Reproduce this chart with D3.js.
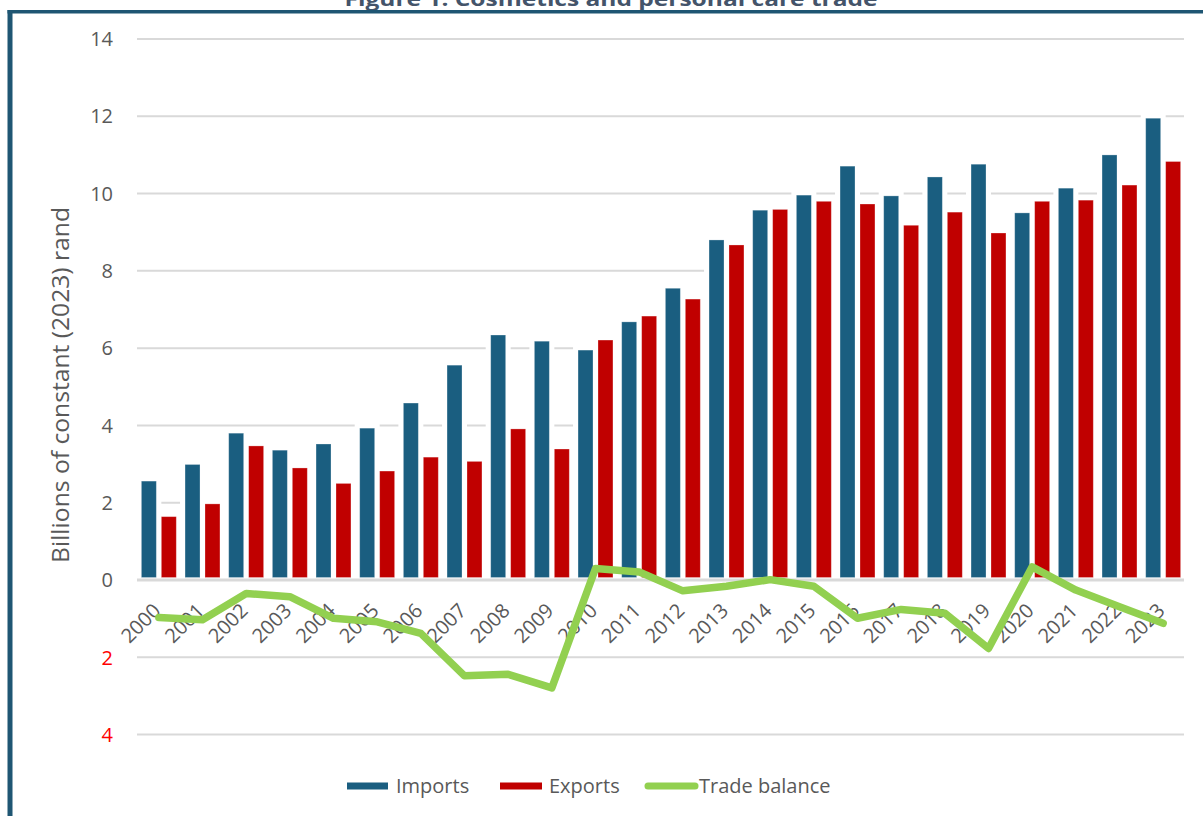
<!DOCTYPE html>
<html>
<head>
<meta charset="utf-8">
<script src="https://cdn.jsdelivr.net/npm/d3@7"></script>
<style>
  html, body { margin: 0; padding: 0; background: #ffffff; }
  svg { display: block; }
  text { font-family: "Open Sans", "Liberation Sans", Arial, sans-serif; }
</style>
</head>
<body>
<div id="chart"></div>
<script>
// Cosmetics and personal care trade, billions of constant (2023) rand
const years = ["2000","2001","2002","2003","2004","2005","2006","2007","2008","2009","2010","2011",
               "2012","2013","2014","2015","2016","2017","2018","2019","2020","2021","2022","2023"];
const imports = [2.56, 2.99, 3.80, 3.36, 3.52, 3.93, 4.58, 5.56, 6.34, 6.18, 5.95, 6.68,
                 7.55, 8.80, 9.57, 9.96, 10.71, 9.94, 10.43, 10.76, 9.50, 10.14, 11.00, 11.95];
const exports = [1.64, 1.97, 3.47, 2.90, 2.50, 2.82, 3.18, 3.07, 3.91, 3.39, 6.21, 6.83,
                 7.27, 8.67, 9.59, 9.80, 9.73, 9.18, 9.52, 8.98, 9.80, 9.83, 10.22, 10.83];
const tradeBalance = [-0.97, -1.03, -0.35, -0.43, -0.99, -1.08, -1.38, -2.48, -2.44, -2.79, 0.30, 0.21,
                      -0.28, -0.16, 0.01, -0.16, -0.99, -0.76, -0.86, -1.77, 0.34, -0.26, -0.69, -1.12];
const yTicks = [-4, -2, 0, 2, 4, 6, 8, 10, 12, 14];
const seriesNames = ["Imports", "Exports", "Trade balance"];

const W = 1203, H = 816;
const colors = { imports: "#1a5e80", exports: "#c00000", balance: "#92d050" };

const svg = d3.select("#chart").append("svg").attr("width", W).attr("height", H);

// Frame and title above it
svg.append("text")
  .attr("x", 611).attr("y", 6)
  .attr("text-anchor", "middle")
  .attr("font-size", 20).attr("font-weight", "bold")
  .attr("fill", "#44546a")
  .attr("textLength", 533).attr("lengthAdjust", "spacingAndGlyphs")
  .text("Figure 1: Cosmetics and personal care trade");
svg.append("rect").attr("x", 7.5).attr("y", 10).attr("width", W).attr("height", 3.5).attr("fill", "#1f5673");
svg.append("rect").attr("x", 7.5).attr("y", 10).attr("width", 5).attr("height", H).attr("fill", "#1f5673");

const left = 137, right = 1185;
const y = d3.scaleLinear().domain([-4, 14]).range([734.6, 39]);
const x0 = d3.scaleBand().domain(years).range([left, right]).paddingInner(0.2).paddingOuter(0.1);
const x1 = d3.scaleBand().domain(["imports", "exports"]).range([0, x0.bandwidth()]).paddingInner(0.25);
const xc = d => x0(d) + x0.bandwidth() / 2;

// Gridlines
svg.append("g").selectAll("line").data(yTicks.filter(t => t !== 0)).join("line")
  .attr("x1", left).attr("x2", 1184)
  .attr("y1", d => y(d)).attr("y2", d => y(d))
  .attr("stroke", "#d9d9d9").attr("stroke-width", 2);

// Y tick labels (values below zero show the deficit size, in red)
svg.append("g").selectAll("text").data(yTicks).join("text")
  .attr("x", 113).attr("y", d => y(d)).attr("dy", "0.36em")
  .attr("text-anchor", "end").attr("font-size", 20)
  .attr("fill", d => d < 0 ? "#ff0000" : "#595959")
  .text(d => Math.abs(d));

// Y axis title
svg.append("text")
  .attr("transform", "translate(69,385) rotate(-90)")
  .attr("text-anchor", "middle").attr("font-size", 23).attr("fill", "#595959")
  .attr("textLength", 356).attr("lengthAdjust", "spacingAndGlyphs")
  .text("Billions of constant (2023) rand");

const barData = years.flatMap((yr, i) => [
  { yr, key: "imports", v: imports[i] },
  { yr, key: "exports", v: exports[i] }
]);

// White halos behind bars
const halo = 5;
svg.append("g").selectAll("rect").data(barData).join("rect")
  .attr("x", d => x0(d.yr) + x1(d.key) - halo)
  .attr("y", d => y(d.v) - halo)
  .attr("width", x1.bandwidth() + 2 * halo)
  .attr("height", d => y(0) - y(d.v) + halo - 2)
  .attr("fill", "#ffffff");

// Bars
svg.append("g").selectAll("rect").data(barData).join("rect")
  .attr("x", d => x0(d.yr) + x1(d.key))
  .attr("y", d => y(d.v))
  .attr("width", x1.bandwidth())
  .attr("height", d => y(0) - y(d.v) - 2.5)
  .attr("fill", d => colors[d.key])
  .attr("stroke", "#ffffff").attr("stroke-opacity", 0.35).attr("stroke-width", 0.8);

// Zero line
svg.append("line")
  .attr("x1", left).attr("x2", 1184).attr("y1", y(0)).attr("y2", y(0))
  .attr("stroke", "#d9d9d9").attr("stroke-width", 3);

// Year labels
svg.append("g").selectAll("text").data(years).join("text")
  .attr("transform", d => `translate(${xc(d) + 3},${y(0) + 32}) rotate(-45)`)
  .attr("text-anchor", "end").attr("font-size", 20).attr("fill", "#595959")
  .text(d => d);

// Trade balance line
const line = d3.line().x((d, i) => xc(years[i])).y(d => y(d));
svg.append("path").datum(tradeBalance)
  .attr("d", line)
  .attr("fill", "none").attr("stroke", colors.balance)
  .attr("stroke-width", 7.5).attr("stroke-linejoin", "round").attr("stroke-linecap", "round");

// Legend
const legend = svg.append("g").attr("font-size", 20).attr("fill", "#595959");
const legendItems = [
  { name: seriesNames[0], x: 347, w: 41, tx: 396, color: colors.imports, round: false },
  { name: seriesNames[1], x: 500, w: 42, tx: 549, color: colors.exports, round: false },
  { name: seriesNames[2], x: 648, w: 47, tx: 699, color: colors.balance, round: true }
];
legendItems.forEach(it => {
  legend.append("line")
    .attr("x1", it.x).attr("x2", it.x + it.w).attr("y1", 786).attr("y2", 786)
    .attr("stroke", it.color).attr("stroke-width", 7)
    .attr("stroke-linecap", it.round ? "round" : "butt");
  legend.append("text").attr("x", it.tx).attr("y", 786).attr("dy", "0.35em").text(it.name);
});
</script>
</body>
</html>
